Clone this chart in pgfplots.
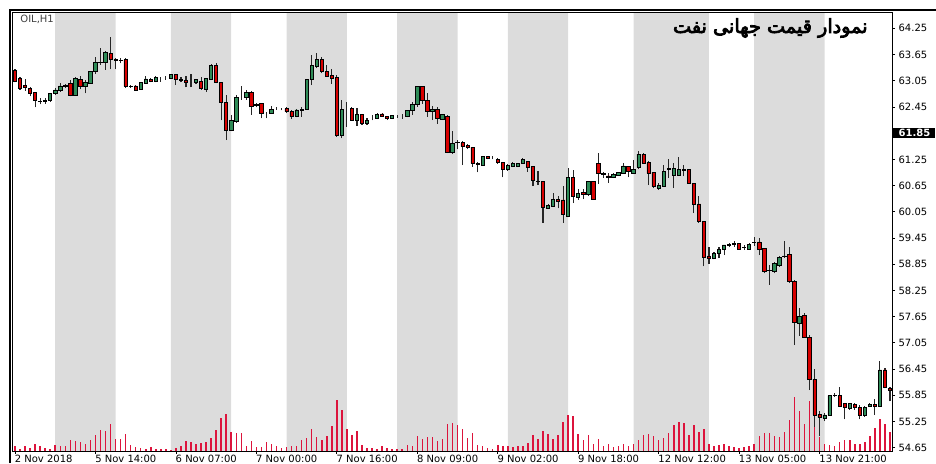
\documentclass[border=0pt]{standalone}
\usepackage{pgfplots}
\pgfplotsset{compat=1.18}
\usepackage{pgfplotstable}
\usepackage{fontspec}
\setmainfont{DejaVu Sans}
\newfontfamily\farsi[Script=Arabic, FakeBold=4]{DejaVu Sans}
\TeXXeTstate=1

\definecolor{bandgray}{RGB}{220,220,220}
\definecolor{bull}{RGB}{46,139,87}
\definecolor{bear}{RGB}{215,0,0}
\definecolor{vol}{RGB}{220,20,60}

% OIL H1 candles: index, open, high, low, close, volume (bar height)
\pgfplotstableread{
i O H L C V
0 63.28 63.31 63.01 63.03 4.7
1 63.10 63.13 62.84 62.88 2.3
2 62.95 63.09 62.82 62.90 4.7
3 62.88 62.90 62.69 62.76 3.3
4 62.78 62.80 62.44 62.59 7.3
5 62.57 62.65 62.51 62.58 4.7
6 62.58 62.65 62.52 62.59 3.3
7 62.59 62.76 62.57 62.75 1.7
8 62.75 62.88 62.72 62.84 5.7
9 62.82 62.99 62.80 62.93 5.0
10 62.93 62.98 62.88 62.94 4.7
11 62.98 63.07 62.69 62.72 10.7
12 62.72 63.13 62.72 63.10 9.7
13 63.08 63.16 62.85 62.93 9.0
14 62.93 63.07 62.76 63.01 7.3
15 62.99 63.27 62.98 63.27 11.3
16 63.26 63.60 63.20 63.46 16.3
17 63.46 63.79 63.41 63.47 20.7
18 63.46 63.72 63.30 63.69 20.0
19 63.68 64.06 63.31 63.54 27.0
20 63.53 63.56 63.31 63.52 11.7
21 63.52 63.56 63.45 63.51 11.7
22 63.53 63.56 62.88 62.92 16.7
23 62.92 62.95 62.88 62.91 5.7
24 62.93 62.95 62.82 62.84 3.7
25 62.85 63.03 62.84 63.01 2.7
26 62.99 63.16 62.98 63.09 1.7
27 63.07 63.11 63.01 63.03 3.7
28 63.03 63.16 63.01 63.13 2.0
29 63.10 63.14 63.03 63.10 1.7
30 63.11 63.16 63.07 63.11 1.7
31 63.10 63.21 63.08 63.19 1.3
32 63.19 63.21 62.95 63.07 3.3
33 63.07 63.13 63.01 63.06 4.7
34 63.05 63.16 62.90 63.01 9.7
35 63.03 63.21 62.90 63.03 9.0
36 63.01 63.10 62.98 63.07 6.7
37 63.04 63.14 62.84 62.88 8.3
38 62.85 63.11 62.80 63.10 9.0
39 63.08 63.43 63.07 63.39 13.0
40 63.39 63.45 62.99 63.01 20.7
41 63.01 63.02 62.14 62.55 33.3
42 62.55 62.72 61.69 61.92 36.7
43 61.91 62.27 61.89 62.15 19.3
44 62.11 62.72 62.09 62.67 17.7
45 62.65 62.93 62.61 62.65 17.7
46 62.66 62.84 62.62 62.78 4.7
47 62.79 62.82 62.27 62.46 9.7
48 62.49 62.55 62.44 62.50 3.7
49 62.52 62.52 62.19 62.30 3.7
50 62.30 62.34 62.19 62.30 9.0
51 62.30 62.47 62.29 62.40 6.7
52 62.41 62.45 62.38 62.41 4.7
53 62.40 62.43 62.37 62.40 3.0
54 62.41 62.44 62.32 62.34 4.0
55 62.34 62.38 62.17 62.23 5.3
56 62.23 62.40 62.21 62.38 4.7
57 62.38 62.44 62.23 62.39 11.3
58 62.40 63.08 62.38 63.07 13.0
59 63.07 63.64 62.95 63.39 22.3
60 63.37 63.68 63.33 63.53 14.3
61 63.54 63.60 63.22 63.26 11.3
62 63.26 63.41 63.14 63.16 14.7
63 63.18 63.31 62.98 63.11 24.7
64 63.13 63.18 61.77 61.79 50.7
65 61.79 62.62 61.73 62.40 41.3
66 62.40 62.57 62.00 62.40 22.3
67 62.42 62.46 62.14 62.15 16.0
68 62.15 62.42 62.02 62.27 19.7
69 62.27 62.27 62.04 62.08 5.7
70 62.08 62.19 62.04 62.14 3.3
71 62.17 62.27 62.14 62.17 2.7
72 62.19 62.30 62.17 62.28 2.0
73 62.29 62.32 62.23 62.24 4.7
74 62.23 62.24 62.15 62.18 2.7
75 62.19 62.27 62.17 62.25 1.7
76 62.23 62.26 62.20 62.23 1.7
77 62.23 62.28 62.18 62.23 1.7
78 62.23 62.38 62.21 62.36 5.7
79 62.36 62.57 62.27 62.51 5.0
80 62.50 62.93 62.46 62.92 14.7
81 62.92 62.93 62.52 62.61 12.3
82 62.59 62.78 62.23 62.34 13.7
83 62.34 62.47 62.15 62.40 13.7
84 62.40 62.46 62.06 62.19 9.7
85 62.17 62.28 62.15 62.27 12.3
86 62.24 62.26 61.39 61.40 27.0
87 61.40 61.89 61.37 61.62 27.7
88 61.63 61.69 61.48 61.64 25.7
89 61.63 61.66 61.12 61.54 21.7
90 61.56 61.60 61.48 61.53 13.0
91 61.53 61.54 61.08 61.16 18.3
92 61.16 61.20 60.95 61.14 6.3
93 61.12 61.33 61.10 61.31 4.7
94 61.31 61.33 61.25 61.27 2.7
95 61.30 61.33 61.25 61.30 1.7
96 61.25 61.27 61.15 61.18 6.3
97 61.18 61.20 60.84 61.02 5.0
98 61.01 61.15 60.99 61.12 4.7
99 61.10 61.18 61.07 61.15 4.0
100 61.08 61.16 61.07 61.15 5.3
101 61.16 61.27 61.15 61.24 5.3
102 61.20 61.22 60.97 61.07 8.0
103 61.08 61.10 60.64 60.76 16.0
104 60.74 60.99 60.66 60.75 12.3
105 60.74 60.76 59.80 60.15 20.0
106 60.13 60.23 60.11 60.20 16.7
107 60.18 60.49 60.17 60.34 12.3
108 60.34 60.40 60.13 60.28 16.3
109 60.32 60.63 59.80 59.98 28.7
110 59.94 61.05 59.92 60.84 36.3
111 60.84 61.01 60.25 60.40 34.7
112 60.38 60.57 60.32 60.47 16.7
113 60.49 60.57 60.34 60.44 11.3
114 60.44 60.76 60.41 60.74 16.0
115 60.74 60.76 60.32 60.34 6.7
116 61.15 61.40 60.69 60.92 12.3
117 60.92 60.97 60.82 60.91 5.0
118 60.87 60.93 60.72 60.84 7.3
119 60.83 60.93 60.82 60.91 4.0
120 60.89 60.97 60.87 60.95 4.7
121 60.93 61.17 60.92 61.10 6.7
122 61.08 61.08 60.84 60.97 4.7
123 60.93 61.24 60.93 61.02 7.3
124 61.07 61.43 61.02 61.37 10.7
125 61.37 61.40 61.15 61.16 16.0
126 61.17 61.22 60.66 60.93 16.7
127 60.95 60.97 60.59 60.63 14.7
128 60.59 60.70 60.55 60.66 11.3
129 60.63 61.12 60.63 60.97 13.3
130 61.05 61.25 60.82 61.01 18.3
131 60.89 61.17 60.59 61.05 25.7
132 60.89 61.31 60.87 61.01 29.0
133 61.01 61.12 60.86 61.00 28.0
134 61.01 61.02 60.69 60.70 16.0
135 60.69 60.70 60.02 60.23 26.3
136 60.23 60.40 59.80 59.83 19.0
137 59.83 59.84 58.80 59.01 22.3
138 59.04 59.24 58.86 58.99 7.3
139 58.99 59.12 58.96 59.09 4.7
140 59.09 59.25 58.99 59.18 6.0
141 59.18 59.29 59.06 59.29 6.7
142 59.29 59.34 59.24 59.30 5.0
143 59.31 59.37 59.25 59.32 4.0
144 59.33 59.34 59.18 59.19 3.3
145 59.23 59.29 59.18 59.24 4.0
146 59.19 59.33 59.18 59.31 5.0
147 59.34 59.48 59.27 59.35 7.3
148 59.36 59.44 59.06 59.18 15.3
149 59.21 59.21 58.64 58.68 18.0
150 58.70 58.83 58.38 58.71 18.3
151 58.68 58.89 58.64 58.87 15.0
152 58.83 59.04 58.79 59.01 14.0
153 59.02 59.39 58.99 59.04 19.0
154 59.08 59.24 58.43 58.45 31.3
155 58.45 58.48 57.00 57.51 54.0
156 57.50 57.84 57.21 57.65 39.7
157 57.67 57.73 57.17 57.18 27.3
158 57.18 57.23 55.97 56.22 49.7
159 56.22 56.45 55.13 55.40 36.3
160 55.41 55.48 54.91 55.35 14.0
161 55.33 55.45 55.25 55.40 7.3
162 55.40 55.86 55.38 55.84 6.3
163 55.84 55.91 55.81 55.85 5.0
164 55.84 56.03 55.58 55.59 9.0
165 55.67 55.68 55.30 55.58 10.7
166 55.55 55.68 55.52 55.67 10.7
167 55.65 55.67 55.52 55.58 7.3
168 55.58 55.63 55.30 55.40 7.3
169 55.40 55.61 55.36 55.58 9.0
170 55.59 55.68 55.58 55.65 14.7
171 55.65 55.76 55.40 55.59 23.0
172 55.59 56.64 55.58 56.43 32.3
173 56.43 56.47 56.01 56.03 26.7
174 56.01 56.03 55.71 55.96 19.0
}\candles

\pgfplotsset{
  chartbox/.style={scale only axis, width=440pt, height=219.5pt,
    xmin=-0.6, xmax=174.4, at={(0,0)}, anchor=south west},
}

\begin{document}
\begin{tikzpicture}
\path[use as bounding box] (-6pt,-6pt) rectangle (462pt,225.5pt);

% session bands + volume
\begin{axis}[chartbox, ymin=0, ymax=439, hide axis]
  \addplot[draw=none, fill=bandgray, const plot] coordinates {
    (-1,0) (8,1000) (20,0) (31,1000) (43,0) (54,1000) (66,0) (76,1000)
    (88,0) (98,1000) (110,0) (123,1000) (138,0) (147,1000) (161,0) (176,0)} \closedcycle;
  \addplot[ycomb, vol, line width=0.75pt, mark=none] table[x=i, y=V] {\candles};
\end{axis}

% wicks
\begin{axis}[chartbox, ymin=54.574, ymax=64.623, hide axis]
  \addplot[draw=none, mark=none,
    error bars/.cd, y dir=plus, y explicit, error mark=none,
    error bar style={draw=black!85, line width=0.55pt}]
    table[x=i, y=L, y error expr=\thisrow{H}-\thisrow{L}] {\candles};
\end{axis}

% bodies, ticks and labels
\begin{axis}[chartbox, ymin=54.574, ymax=64.623,
  ybar stacked, bar width=0.66,
  axis line style={black, line width=0.5pt},
  xtick={0,16,32,48,64,80,96,112,128,144,160},
  xticklabels={2 Nov 2018, 5 Nov 14:00, 6 Nov 07:00, 7 Nov 00:00, 7 Nov 16:00,
    8 Nov 09:00, 9 Nov 02:00, 9 Nov 18:00, 12 Nov 12:00, 13 Nov 05:00, 13 Nov 21:00},
  ytick={54.65,55.25,55.85,56.45,57.05,57.65,58.25,58.85,59.45,60.05,60.65,61.25,61.85,62.45,63.05,63.65,64.25},
  yticklabels={54.65,55.25,55.85,56.45,57.05,57.65,58.25,58.85,59.45,60.05,60.65,61.25,
    {\hspace*{-3.2pt}\setlength\fboxsep{0.7pt}\colorbox{black}{\hspace{2.5pt}\textcolor{white}{\bfseries 61.85}\hspace{1.5pt}}},
    62.45,63.05,63.65,64.25},
  xtick pos=bottom, ytick pos=right, yticklabel pos=right,
  tick align=outside, major tick length=1.5pt,
  tick style={black, line width=0.4pt},
  ticklabel style={font=\fontsize{5}{6}\selectfont, text=black},
  xticklabel style={anchor=north west, inner sep=0.5pt, xshift=-0.8pt},
  yticklabel style={anchor=west, inner sep=1.6pt},
]
  \addplot[draw=none, fill=none] table[x=i, y expr={min(\thisrow{O},\thisrow{C})}] {\candles};
  \addplot[fill=bull, draw=black, line width=0.4pt] table[x=i, y expr={max(\thisrow{C}-\thisrow{O},0)}] {\candles};
  \addplot[fill=bear, draw=black, line width=0.4pt] table[x=i, y expr={max(\thisrow{O}-\thisrow{C},0)}] {\candles};
\end{axis}

% window frame
\draw[black, line width=0.8pt] (-1pt,-6pt) -- (-1pt,220.5pt) -- (462pt,220.5pt);
\node[anchor=north west, inner sep=0pt, font=\fontsize{5}{6}\selectfont, text=black!75]
  at (4pt,218pt) {OIL,H1};
\node[anchor=east, inner sep=0pt] at (428pt,211.5pt)
  {\farsi\fontsize{9.6}{11}\selectfont\beginR نمودار قیمت جهانی نفت\endR};
\end{tikzpicture}
\end{document}
